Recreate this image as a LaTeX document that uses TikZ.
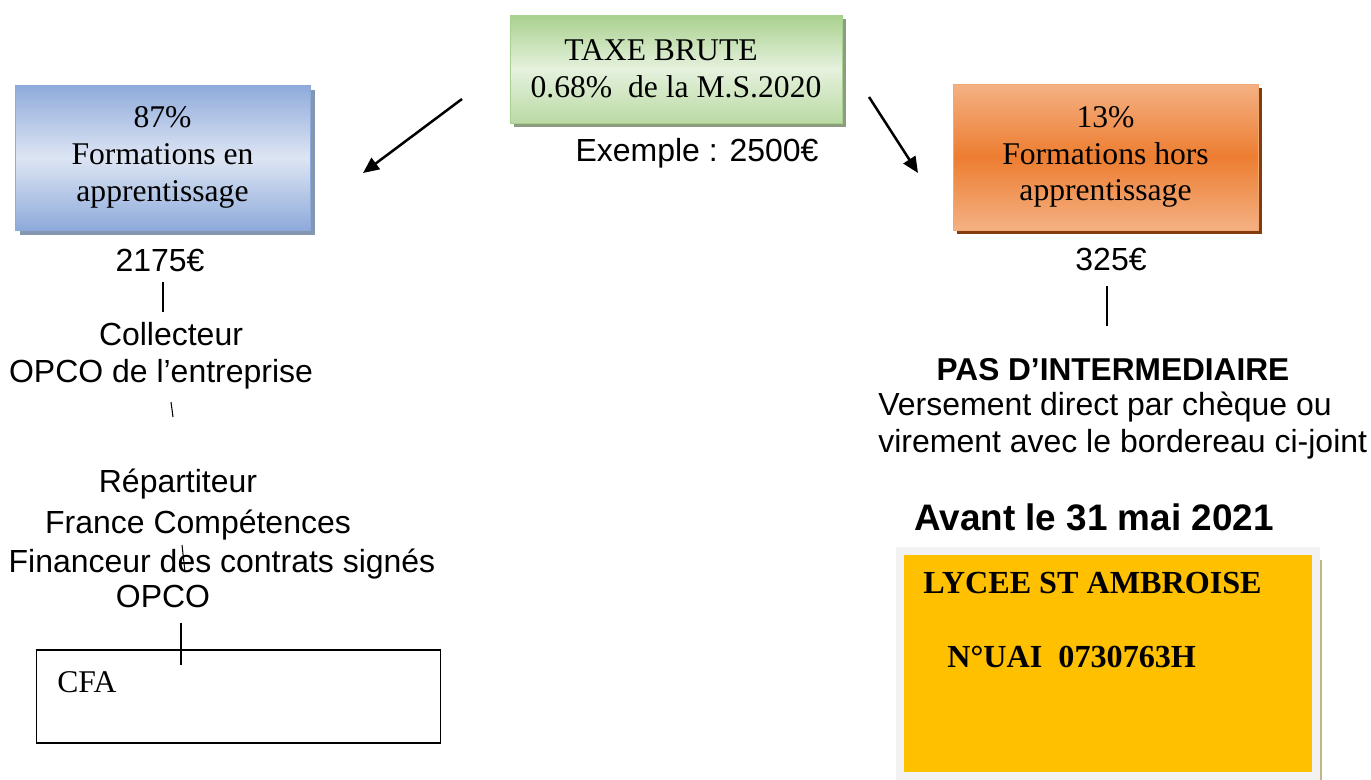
\documentclass[tikz,border=0pt]{standalone}
\usepackage{fontspec}
\setmainfont{Liberation Serif}
\setsansfont{Liberation Sans}
\usepackage{xcolor}
\usepackage{tikz}
\usetikzlibrary{arrows.meta,shadows}
\definecolor{bluD}{HTML}{8EAADB}
\definecolor{bluL}{HTML}{DDE5F3}
\definecolor{bluS}{HTML}{8497B0}
\definecolor{grnD}{HTML}{A9D18E}
\definecolor{grnL}{HTML}{E5F1DD}
\definecolor{grnS}{HTML}{8C9C80}
\definecolor{orgD}{HTML}{ED7D31}
\definecolor{orgL}{HTML}{F4B183}
\definecolor{orgS}{HTML}{843C0C}
\definecolor{yel}{HTML}{FFC000}
\definecolor{gryB}{HTML}{F2F2F2}
\definecolor{tanS}{HTML}{C4B48A}

\begin{document}
\begin{tikzpicture}[x=0.02cm,y=-0.02cm,
  sbox/.style={rectangle,inner sep=0pt,align=center,
               font=\rmfamily\fontsize{18}{21}\selectfont},
  stxt/.style={anchor=base,inner sep=0pt,font=\sffamily\fontsize{18.2}{21}\selectfont},
  btxt/.style={stxt,font=\sffamily\bfseries\fontsize{18}{21}\selectfont},
  rtxt/.style={anchor=base west,inner sep=0pt,font=\rmfamily\bfseries\fontsize{18.3}{21}\selectfont},
  lnk/.style={line width=0.6pt},
  arr/.style={-{Triangle[length=0.32cm,width=0.28cm]},line width=0.05cm}
]
  \useasboundingbox (0,0) rectangle (1371,780);

  % top and the two shares
  \node[sbox,draw=grnD,shading angle=-25,top color=grnD,bottom color=grnD!80,middle color=grnL,
        minimum width=6.64cm,minimum height=2.16cm,
        drop shadow={shadow xshift=0.08cm,shadow yshift=-0.08cm,fill=grnS,opacity=1}]
        (taxe) at (676,69) {TAXE BRUTE\hspace*{0.6cm}\\0.68\%\ \ de la M.S.2020};
  \node[stxt] (exemple) at (697,162) {Exemple : 2500€};

  \node[sbox,draw=bluD,shading angle=-40,top color=bluD,bottom color=bluD,middle color=bluL,
        minimum width=5.9cm,minimum height=2.9cm,
        drop shadow={shadow xshift=0.1cm,shadow yshift=-0.1cm,fill=bluS,opacity=1}]
        (appr) at (162.5,157.5) {87\%\\Formations en\\apprentissage};
  \node[sbox,draw=orgL!80!orgD,top color=orgL,bottom color=orgL,middle color=orgD,
        minimum width=6.1cm,minimum height=2.92cm,
        drop shadow={shadow xshift=0.08cm,shadow yshift=-0.08cm,fill=orgS,opacity=1}]
        (hors) at (1105.5,157) {13\%\\Formations hors\\apprentissage};

  \coordinate (gl) at (462,99);
  \coordinate (bl) at (363,173);
  \coordinate (gr) at (869,97);
  \coordinate (br) at (918,173);
  \draw[arr] (gl) -- (bl);
  \draw[arr] (gr) -- (br);

  % left branch
  \node[stxt] (m2175) at (160,272) {2175€};
  \node[stxt] (coll1) at (171,345) {Collecteur};
  \node[stxt] (coll2) at (161,382) {OPCO de l’entreprise};
  \node[stxt] (rep1) at (178,492) {Répartiteur};
  \node[stxt] (rep2) at (198,533) {France Compétences};
  \node[stxt] (rep3) at (222,572) {Financeur des contrats signés};
  \node[stxt] (rep4) at (163,607) {OPCO};
  \node[draw,line width=0.6pt,minimum width=8.1cm,minimum height=1.86cm]
        (cfa) at (238.5,696.5) {};
  \node[rtxt,font=\rmfamily\fontsize{18}{21}\selectfont] (cfatxt) at (57,692) {CFA};

  \coordinate (a1) at (163,282);
  \coordinate (a2) at (163,312);
  \coordinate (s1) at (171,402);
  \coordinate (s2) at (173,417);
  \coordinate (s3) at (182,545);
  \coordinate (s4) at (185,572);
  \coordinate (a3) at (181,623);
  \coordinate (a4) at (181,665);
  \draw[lnk] (a1) -- (a2);
  \draw[lnk] (s1) -- (s2);
  \draw[lnk] (s3) -- (s4);
  \draw[lnk] (a3) -- (a4);

  % right branch
  \node[stxt] (m325) at (1111,271) {325€};
  \coordinate (r1) at (1107,286);
  \coordinate (r2) at (1107,326);
  \draw[lnk] (r1) -- (r2);
  \node[btxt] (pas) at (1113,380) {PAS D’INTERMEDIAIRE};
  \node[stxt,anchor=base west] (vers1) at (878,415) {Versement direct par chèque ou};
  \node[stxt,anchor=base west] (vers2) at (878,452) {virement avec le bordereau ci-joint};
  \node[btxt,font=\sffamily\bfseries\fontsize{21}{25}\selectfont] (avant) at (1094,530)
        {Avant le 31 mai 2021};

  \node[draw=gryB,line width=0.16cm,fill=yel,minimum width=8.32cm,minimum height=4.5cm,
        drop shadow={shadow xshift=0.12cm,shadow yshift=-0.18cm,fill=tanS,opacity=1}]
        (lycee) at (1108,663.5) {};
  \node[rtxt] (lyctxt) at (923,593) {LYCEE ST AMBROISE};
  \node[rtxt] (uai) at (947,667) {N°UAI\ \ 0730763H};
\end{tikzpicture}
\end{document}
